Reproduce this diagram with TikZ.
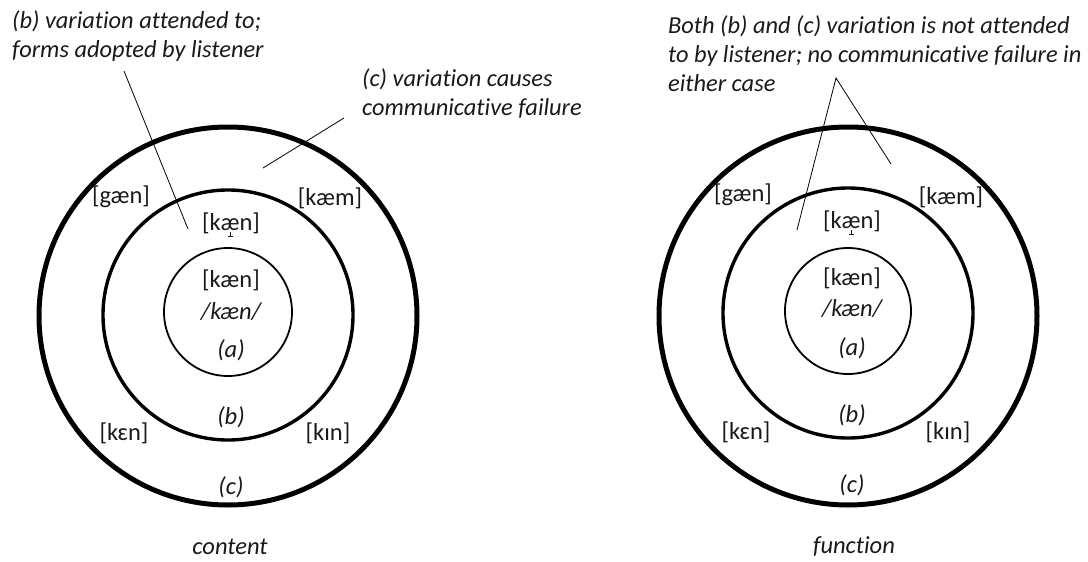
\documentclass[tikz,border=0pt]{standalone}
\usepackage{fontspec}
\setmainfont{Carlito}[Ligatures=NoCommon]
\definecolor{ink}{HTML}{1A1A1A}
\newcommand{\raisedae}{{\ooalign{æ\cr\hfil\raisebox{-0.26em}{\rule{0.045em}{0.2em}}\hfil\cr\hfil\raisebox{-0.28em}{\rule{0.2em}{0.045em}}\hfil\cr}}}
\begin{document}
\begin{tikzpicture}[x=1pt,y=-1pt,
  outerring/.style={draw=black,line width=5pt},
  midring/.style={draw=black,line width=3.4pt},
  innerring/.style={draw=black,line width=1.8pt},
  lbl/.style={font=\fontsize{24.4}{29}\selectfont\itshape, inner sep=0pt, align=left, anchor=west, text=ink},
  ph/.style={font=\fontsize{24.5}{28}\selectfont, inner sep=0pt, text=ink},
  itl/.style={font=\fontsize{24.5}{28}\selectfont\itshape, inner sep=0pt, text=ink},
  leader/.style={draw=black, line width=0.8pt}]
\useasboundingbox (0,0) rectangle (1088,562);
\fill[white] (0,0) rectangle (1088,562);

% ---------- left diagram ----------
\draw[outerring] (228,316) circle[radius=189];
\draw[midring]   (228,315) circle[radius=125];
\draw[innerring] (228,312) circle[radius=64];

\node[lbl] (lb) at (12,36) {(b) variation attended to;\\forms adopted by listener};
\node[lbl] (lc) at (362,94) {(c) variation causes\\communicative failure};
\coordinate (lbs) at (124,71);
\coordinate (lbe) at (188,229);
\coordinate (lcs) at (344,118);
\coordinate (lce) at (263,168);
\draw[leader] (lbs) -- (lbe);
\draw[leader] (lcs) -- (lce);

\node[ph] (lgaen) at (121,197) {[gæn]};
\node[ph] (lkaem) at (330,198) {[kæm]};
\node[ph] (lkraised) at (231,225) {[k\raisedae n]};
\node[ph] (lkaen) at (231,280) {[kæn]};
\node[itl] (lphon) at (231,312) {/kæn/};
\node[itl] (la) at (231,350) {(a)};
\node[itl] (lb2) at (231,417) {(b)};
\node[ph] (lken) at (124,433) {[kɛn]};
\node[ph] (lkin) at (328,433) {[kɪn]};
\node[itl] (lc2) at (231,487) {(c)};
\node[itl] (lcontent) at (230,547) {content};

% ---------- right diagram ----------
\draw[outerring] (848,316) circle[radius=189];
\draw[midring]   (848,313) circle[radius=125];
\draw[innerring] (848,311) circle[radius=63];

\node[lbl] (rl) at (668,54) {Both (b) and (c) variation is not attended\\to by listener; no communicative failure in\\either case};
\coordinate (rapex) at (836,78);
\coordinate (re1) at (797,230);
\coordinate (re2) at (891,164);
\draw[leader] (re1) -- (rapex) -- (re2);

\node[ph] (rgaen) at (743,195) {[gæn]};
\node[ph] (rkaem) at (951,197) {[kæm]};
\node[ph] (rkraised) at (852,223) {[k\raisedae n]};
\node[ph] (rkaen) at (852,278) {[kæn]};
\node[itl] (rphon) at (852,309) {/kæn/};
\node[itl] (ra) at (852,348) {(a)};
\node[itl] (rb2) at (852,415) {(b)};
\node[ph] (rken) at (746,432) {[kɛn]};
\node[ph] (rkin) at (948,432) {[kɪn]};
\node[itl] (rc2) at (852,485) {(c)};
\node[itl] (rfunction) at (854,547) {function};
\end{tikzpicture}
\end{document}
